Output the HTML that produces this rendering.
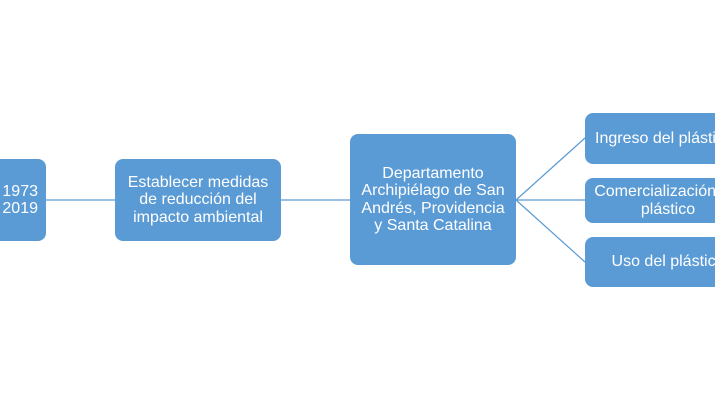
<!DOCTYPE html>
<html><head><style>
body{margin:0;width:715px;height:400px;background:#fff;position:relative;overflow:hidden;font-family:"Liberation Sans",sans-serif}
.b{position:absolute;background:#5b9bd5;border-radius:8px;color:#fff;font-size:16px;line-height:17.5px;display:flex;align-items:center;justify-content:center;text-align:center;box-sizing:border-box;white-space:nowrap}
svg{position:absolute;left:0;top:0}
</style></head><body>
<svg width="715" height="400"><g stroke="#5b9bd5" stroke-width="1.2" fill="none">
<line x1="46" y1="200" x2="115" y2="200"/>
<line x1="281" y1="200" x2="350" y2="200"/>
<line x1="516" y1="200" x2="585" y2="138"/>
<line x1="516" y1="200" x2="585" y2="200"/>
<line x1="516" y1="200" x2="585" y2="262"/>
</g></svg>
<div class="b" style="left:-70px;top:159px;width:116px;height:82px;justify-content:flex-end;padding-right:8px;text-align:right">de 1973<br>a 2019</div>
<div class="b" style="left:115px;top:159px;width:166px;height:82px">Establecer medidas<br>de reducción del<br>impacto ambiental</div>
<div class="b" style="left:350px;top:134px;width:166px;height:131px">Departamento<br>Archipiélago de San<br>Andrés, Providencia<br>y Santa Catalina</div>
<div class="b" style="left:585px;top:113px;width:166px;height:51px;justify-content:flex-start;padding-left:10px">Ingreso del plástico</div>
<div class="b" style="left:585px;top:178px;width:166px;height:45px">Comercialización del<br>plástico</div>
<div class="b" style="left:585px;top:237px;width:166px;height:50px">Uso del plástico</div>
</body></html>
